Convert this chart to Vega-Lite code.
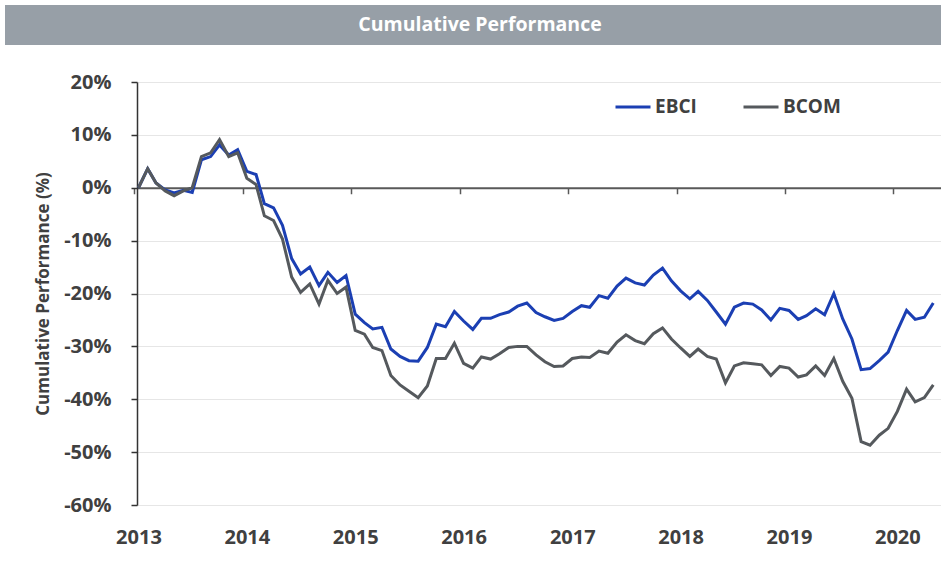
{
  "$schema": "https://vega.github.io/schema/vega-lite/v6.json",
  "padding": {"left": 5, "top": 5, "right": 0, "bottom": 45},
  "background": "white",
  "spacing": 37,
  "bounds": "flush",
  "config": {"font": "Open Sans", "view": {"stroke": null}},
  "vconcat": [
    {
      "width": 936,
      "height": 40,
      "view": {"fill": "#979fa7", "stroke": null},
      "data": {"values": [{"t": "Cumulative Performance"}]},
      "mark": {"type": "text", "color": "white", "font": "Open Sans", "fontSize": 19.5, "fontWeight": "bold", "dx": 7},
      "encoding": {"text": {"field": "t"}}
    },
    {
      "bounds": "flush",
      "spacing": 0,
      "hconcat": [
        {
          "width": 132,
          "height": 10,
          "data": {"values": []},
          "mark": {"type": "point", "opacity": 0},
          "encoding": {}
        },
        {
          "width": 804,
          "height": 423,
          "data": {"values": [
            {"d": "2013-01-01", "EBCI": 0, "BCOM": 0},
            {"d": "2013-02-01", "EBCI": 3.6, "BCOM": 3.6},
            {"d": "2013-03-01", "EBCI": 0.9, "BCOM": 0.9},
            {"d": "2013-04-01", "EBCI": -0.4, "BCOM": -0.6},
            {"d": "2013-05-01", "EBCI": -1.0, "BCOM": -1.5},
            {"d": "2013-06-01", "EBCI": -0.5, "BCOM": -0.6},
            {"d": "2013-07-01", "EBCI": -0.9, "BCOM": 0.0},
            {"d": "2013-08-01", "EBCI": 5.3, "BCOM": 5.9},
            {"d": "2013-09-01", "EBCI": 5.9, "BCOM": 6.6},
            {"d": "2013-10-01", "EBCI": 8.1, "BCOM": 9.1},
            {"d": "2013-11-01", "EBCI": 6.2, "BCOM": 5.9},
            {"d": "2013-12-01", "EBCI": 7.2, "BCOM": 6.6},
            {"d": "2014-01-01", "EBCI": 3.1, "BCOM": 1.8},
            {"d": "2014-02-01", "EBCI": 2.5, "BCOM": 0.6},
            {"d": "2014-03-01", "EBCI": -3.0, "BCOM": -5.3},
            {"d": "2014-04-01", "EBCI": -3.8, "BCOM": -6.2},
            {"d": "2014-05-01", "EBCI": -7.1, "BCOM": -9.7},
            {"d": "2014-06-01", "EBCI": -13.4, "BCOM": -16.9},
            {"d": "2014-07-01", "EBCI": -16.3, "BCOM": -19.8},
            {"d": "2014-08-01", "EBCI": -15.0, "BCOM": -18.2},
            {"d": "2014-09-01", "EBCI": -18.5, "BCOM": -22.0},
            {"d": "2014-10-01", "EBCI": -16.0, "BCOM": -17.5},
            {"d": "2014-11-01", "EBCI": -17.9, "BCOM": -20.0},
            {"d": "2014-12-01", "EBCI": -16.6, "BCOM": -18.8},
            {"d": "2015-01-01", "EBCI": -23.9, "BCOM": -27.0},
            {"d": "2015-02-01", "EBCI": -25.5, "BCOM": -27.7},
            {"d": "2015-03-01", "EBCI": -26.7, "BCOM": -30.2},
            {"d": "2015-04-01", "EBCI": -26.4, "BCOM": -30.8},
            {"d": "2015-05-01", "EBCI": -30.5, "BCOM": -35.5},
            {"d": "2015-06-01", "EBCI": -31.9, "BCOM": -37.3},
            {"d": "2015-07-01", "EBCI": -32.7, "BCOM": -38.5},
            {"d": "2015-08-01", "EBCI": -32.8, "BCOM": -39.7},
            {"d": "2015-09-01", "EBCI": -30.2, "BCOM": -37.5},
            {"d": "2015-10-01", "EBCI": -25.8, "BCOM": -32.3},
            {"d": "2015-11-01", "EBCI": -26.3, "BCOM": -32.3},
            {"d": "2015-12-01", "EBCI": -23.4, "BCOM": -29.4},
            {"d": "2016-01-01", "EBCI": -25.2, "BCOM": -33.2},
            {"d": "2016-02-01", "EBCI": -26.8, "BCOM": -34.1},
            {"d": "2016-03-01", "EBCI": -24.7, "BCOM": -32.0},
            {"d": "2016-04-01", "EBCI": -24.7, "BCOM": -32.4},
            {"d": "2016-05-01", "EBCI": -24.0, "BCOM": -31.4},
            {"d": "2016-06-01", "EBCI": -23.5, "BCOM": -30.2},
            {"d": "2016-07-01", "EBCI": -22.4, "BCOM": -30.0},
            {"d": "2016-08-01", "EBCI": -21.8, "BCOM": -30.0},
            {"d": "2016-09-01", "EBCI": -23.6, "BCOM": -31.6},
            {"d": "2016-10-01", "EBCI": -24.4, "BCOM": -32.9},
            {"d": "2016-11-01", "EBCI": -25.1, "BCOM": -33.8},
            {"d": "2016-12-01", "EBCI": -24.7, "BCOM": -33.7},
            {"d": "2017-01-01", "EBCI": -23.4, "BCOM": -32.3},
            {"d": "2017-02-01", "EBCI": -22.3, "BCOM": -32.0},
            {"d": "2017-03-01", "EBCI": -22.6, "BCOM": -32.1},
            {"d": "2017-04-01", "EBCI": -20.4, "BCOM": -30.9},
            {"d": "2017-05-01", "EBCI": -20.9, "BCOM": -31.3},
            {"d": "2017-06-01", "EBCI": -18.6, "BCOM": -29.2},
            {"d": "2017-07-01", "EBCI": -17.1, "BCOM": -27.8},
            {"d": "2017-08-01", "EBCI": -18.0, "BCOM": -28.9},
            {"d": "2017-09-01", "EBCI": -18.4, "BCOM": -29.5},
            {"d": "2017-10-01", "EBCI": -16.5, "BCOM": -27.6},
            {"d": "2017-11-01", "EBCI": -15.2, "BCOM": -26.5},
            {"d": "2017-12-01", "EBCI": -17.6, "BCOM": -28.6},
            {"d": "2018-01-01", "EBCI": -19.5, "BCOM": -30.3},
            {"d": "2018-02-01", "EBCI": -21.0, "BCOM": -31.9},
            {"d": "2018-03-01", "EBCI": -19.6, "BCOM": -30.5},
            {"d": "2018-04-01", "EBCI": -21.3, "BCOM": -31.9},
            {"d": "2018-05-01", "EBCI": -23.5, "BCOM": -32.4},
            {"d": "2018-06-01", "EBCI": -25.8, "BCOM": -36.9},
            {"d": "2018-07-01", "EBCI": -22.6, "BCOM": -33.7},
            {"d": "2018-08-01", "EBCI": -21.8, "BCOM": -33.1},
            {"d": "2018-09-01", "EBCI": -22.0, "BCOM": -33.3},
            {"d": "2018-10-01", "EBCI": -23.1, "BCOM": -33.5},
            {"d": "2018-11-01", "EBCI": -25.0, "BCOM": -35.5},
            {"d": "2018-12-01", "EBCI": -22.8, "BCOM": -33.8},
            {"d": "2019-01-01", "EBCI": -23.2, "BCOM": -34.1},
            {"d": "2019-02-01", "EBCI": -24.9, "BCOM": -35.8},
            {"d": "2019-03-01", "EBCI": -24.2, "BCOM": -35.4},
            {"d": "2019-04-01", "EBCI": -22.9, "BCOM": -33.7},
            {"d": "2019-05-01", "EBCI": -24.0, "BCOM": -35.5},
            {"d": "2019-06-01", "EBCI": -20.0, "BCOM": -32.3},
            {"d": "2019-07-01", "EBCI": -24.8, "BCOM": -36.6},
            {"d": "2019-08-01", "EBCI": -28.6, "BCOM": -39.8},
            {"d": "2019-09-01", "EBCI": -34.4, "BCOM": -48.0},
            {"d": "2019-10-01", "EBCI": -34.2, "BCOM": -48.7},
            {"d": "2019-11-01", "EBCI": -32.7, "BCOM": -46.8},
            {"d": "2019-12-01", "EBCI": -31.1, "BCOM": -45.5},
            {"d": "2020-01-01", "EBCI": -27.0, "BCOM": -42.3},
            {"d": "2020-02-01", "EBCI": -23.2, "BCOM": -38.1},
            {"d": "2020-03-01", "EBCI": -24.9, "BCOM": -40.5},
            {"d": "2020-04-01", "EBCI": -24.5, "BCOM": -39.7},
            {"d": "2020-05-01", "EBCI": -21.8, "BCOM": -37.3}
          ]},
          "transform": [{"fold": ["EBCI", "BCOM"], "as": ["series", "value"]}],
          "layer": [
            {
              "mark": {"type": "point", "opacity": 0},
              "encoding": {
                "x": {
                  "field": "d", "type": "temporal",
                  "scale": {"type": "utc", "domain": [{"year": 2012, "month": 12, "date": 27, "utc": true}, {"year": 2020, "month": 5, "date": 27, "utc": true}]},
                  "axis": {"orient": "bottom", "offset": -317.25, "labels": false, "grid": false, "title": null,
                           "domainColor": "#595959", "domainWidth": 2, "tickColor": "#595959", "tickWidth": 1.5, "tickSize": 6,
                           "tickCount": {"interval": "year", "step": 1}, "tickOffset": -4}
                },
                "y": {
                  "field": "value", "type": "quantitative",
                  "scale": {"domain": [-60, 20], "nice": false, "zero": false},
                  "axis": {
                    "title": "Cumulative Performance (%)", "titleFontSize": 17, "titleFontWeight": "bold",
                    "titleColor": "#404040", "titlePadding": 11,
                    "values": [-60, -50, -40, -30, -20, -10, 0, 10, 20],
                    "labelExpr": "datum.value + '%'", "labelFontSize": 20, "labelFontWeight": "bold", "labelColor": "#404040",
                    "labelPadding": 20, "tickSize": 6, "tickColor": "#333333", "tickWidth": 1.5,
                    "domainColor": "#333333", "domainWidth": 1.5, "gridColor": "#e6e6e6", "gridWidth": 1
                  }
                }
              }
            },
            {
              "mark": {"type": "line", "strokeWidth": 3},
              "encoding": {
                "x": {
                  "field": "d", "type": "temporal",
                  "axis": {"orient": "bottom", "format": "%Y", "tickCount": {"interval": "year", "step": 1}, "ticks": false, "domain": false,
                           "grid": false, "labelFlush": false, "labelFontSize": 20, "labelFontWeight": "bold", "labelColor": "#404040",
                           "labelPadding": 22, "title": null}
                },
                "y": {"field": "value", "type": "quantitative"},
                "color": {
                  "field": "series", "type": "nominal",
                  "scale": {"domain": ["EBCI", "BCOM"], "range": ["#1b3fb3", "#55595d"]},
                  "legend": {"orient": "none", "legendX": 609, "legendY": 83, "direction": "horizontal", "title": null,
                             "symbolType": "stroke", "symbolSize": 1225, "symbolStrokeWidth": 3, "labelFontSize": 19,
                             "labelFontWeight": "bold", "labelColor": "#404040", "labelOffset": 3, "columnPadding": 40}
                }
              }
            }
          ],
          "resolve": {"axis": {"x": "independent"}}
        }
      ]
    }
  ]
}
